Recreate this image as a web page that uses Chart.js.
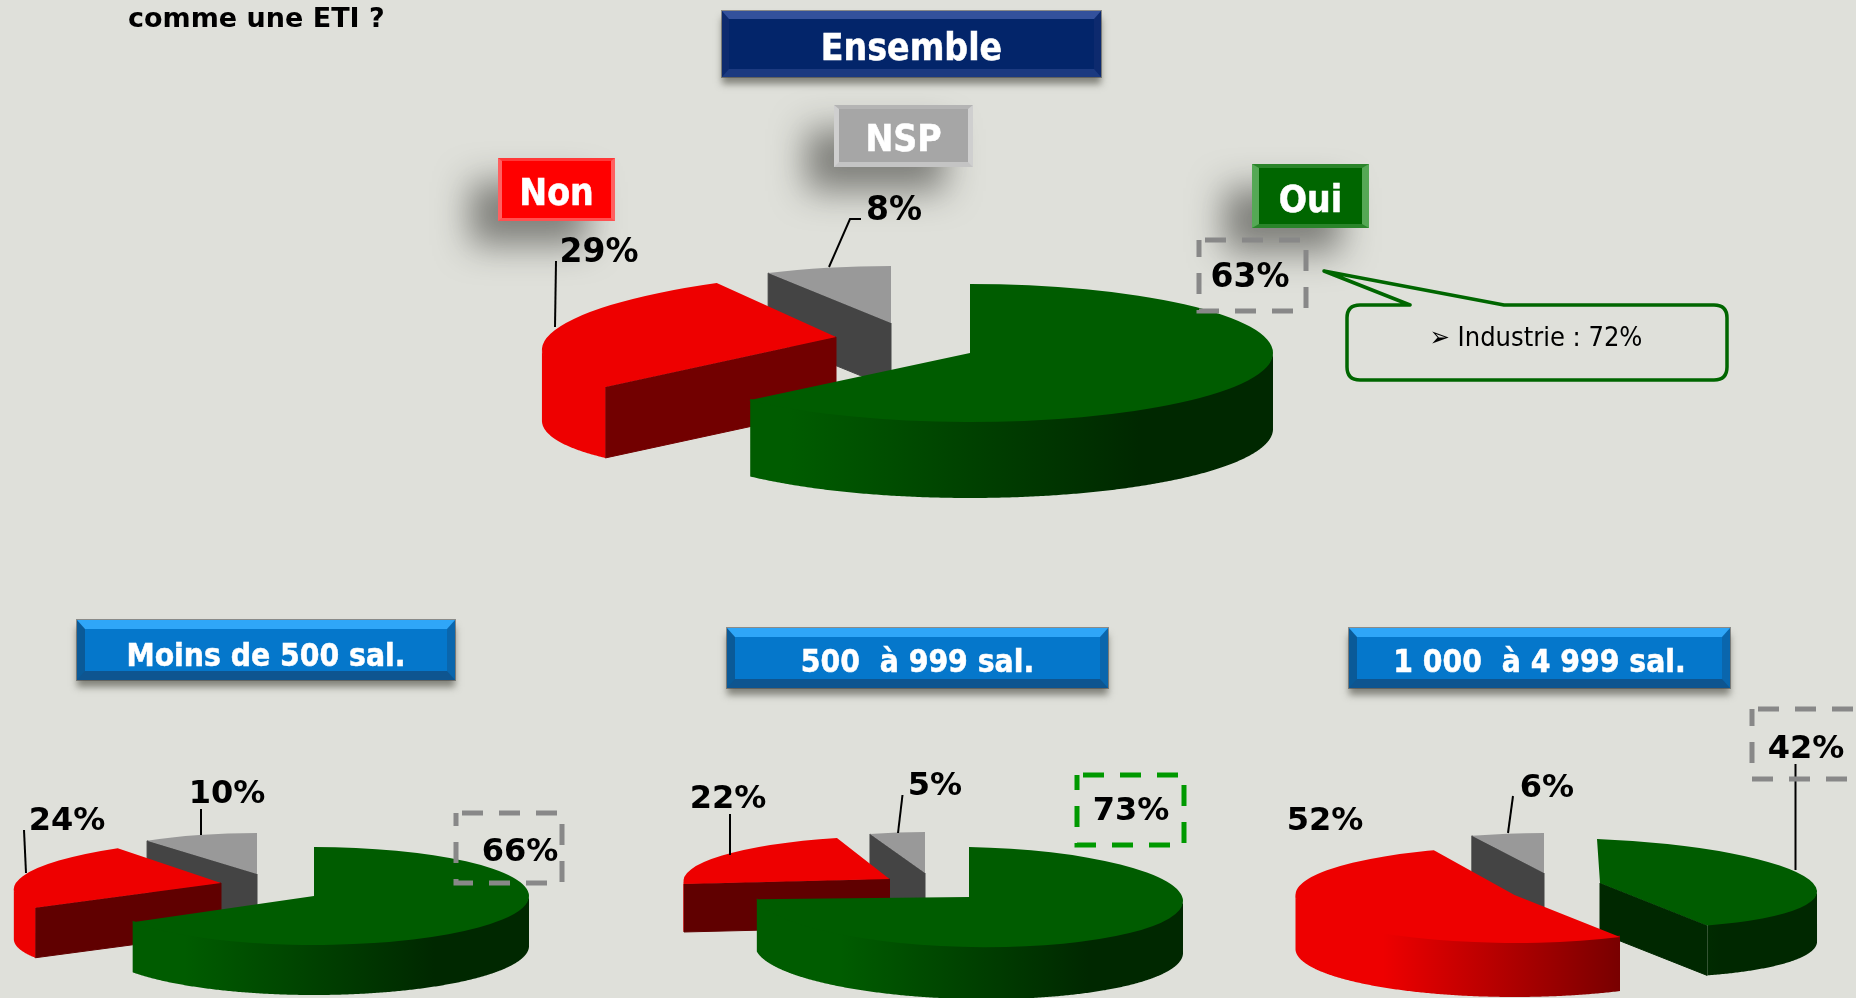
<!DOCTYPE html>
<html><head><meta charset="utf-8">
<script src="https://cdn.jsdelivr.net/npm/chart.js@4"></script>
<style>
html,body{margin:0;padding:0;width:1856px;height:998px;overflow:hidden;background:#dfe0da}
canvas,svg.ov{position:absolute;left:0;top:0}
.box{position:absolute;box-sizing:border-box;display:flex;align-items:center;justify-content:center;color:#fff;
 font-family:"DejaVu Sans Condensed","DejaVu Sans";font-weight:bold;border-style:solid;white-space:pre;-webkit-text-stroke:.5px #fff}
svg text{font-family:"DejaVu Sans"}
</style></head><body>
<script>
// ---------- data ----------
const categories = ['Oui', 'Non', 'NSP'];
const ensembleValues = [63, 29, 8];
const moins500Values = [66, 24, 10];
const de500Values = [73, 22, 5];
const de1000Values = [42, 52, 6];
const pageTitle = 'comme une ETI ?';
const mainTitle = 'Ensemble';
const groupTitles = ['Moins de 500 sal.', '500  à 999 sal.', '1 000  à 4 999 sal.'];
const calloutText = '➢ Industrie : 72%';

// ---------- look ----------
const topColors = ['#005c00', '#ee0000', '#999999'];
const wallBright = ['#005c00', '#ee0000', '#999999'];
const wallDark = ['#002800', '#700000', '#444444'];
const faceColors = ['#002800', '#700000', '#444444'];

// Each slice is placed by an affine frame (centre, x-axis, y-axis) and a depth
const panels = [
 {values: ensembleValues, order: [2,1,0], redFace:'#720000', frames: [
   {cx:970, cy:353, a:303, b:0, c:0, d:69, depth:76},
   {cx:836, cy:337, a:293, b:-7, c:-25, d:65.5, depth:71},
   {cx:891, cy:323, a:255, b:0, c:0, d:57, depth:65}]},
 {values: moins500Values, order: [2,1,0], redFace:'#600000', frames: [
   {cx:314, cy:896, a:215, b:0, c:0, d:49, depth:50},
   {cx:221, cy:883, a:206, b:-1.4, c:-22, d:44, depth:50},
   {cx:257, cy:874, a:187, b:0, c:0, d:41, depth:50}]},
 {values: de500Values, order: [2,1,0], redFace:'#600000', frames: [
   {cx:969, cy:897, a:214, b:4, c:0, d:50, depth:52},
   {cx:889.5, cy:879, a:205.7, b:.4, c:-11.6, d:43, depth:48},
   {cx:925, cy:873, a:178, b:0, c:0, d:41, depth:50}]},
 {values: de1000Values, order: [2,0,1], redFace:'#700000', frames: [
   {cx:1600, cy:883, a:217, b:8, c:3, d:44, depth:50},
   {cx:1514.5, cy:895, a:219, b:0, c:0, d:48, depth:54},
   {cx:1544, cy:873, a:196, b:0, c:0, d:40, depth:50}]}
];

function pt(f, th, dy){ return [f.cx+f.a*Math.cos(th)+f.c*Math.sin(th), f.cy+f.b*Math.cos(th)+f.d*Math.sin(th)+(dy||0)]; }
function face(ctx, f, th, color){
  const o = pt(f, th), q = [f.cx, f.cy];
  ctx.fillStyle = color; ctx.strokeStyle = color; ctx.lineWidth = 1;
  ctx.beginPath(); ctx.moveTo(q[0], q[1]); ctx.lineTo(o[0], o[1]); ctx.lineTo(o[0], o[1]+f.depth); ctx.lineTo(q[0], q[1]+f.depth); ctx.closePath(); ctx.fill(); ctx.stroke();
}
function wall(ctx, f, s, e, i){
  const th0 = Math.atan2(f.c, f.a), TAU = Math.PI*2, run = [];
  for (let t = s; t <= e + 1e-6; t += Math.PI/360) {
    const rel = ((t - th0) % TAU + TAU) % TAU;
    if (rel <= Math.PI) run.push(t);
  }
  if (run.length < 2) return;
  const g = ctx.createLinearGradient(f.cx - f.a, 0, f.cx + f.a, 0);
  g.addColorStop(.2, wallBright[i]); g.addColorStop(.78, wallDark[i]);
  ctx.fillStyle = g;
  ctx.beginPath();
  // the upper edge runs 1.5px under the top face so that no seam shows
  run.forEach((t,k)=>{const p=pt(f,t,-1.5); k?ctx.lineTo(p[0],p[1]):ctx.moveTo(p[0],p[1]);});
  run.slice().reverse().forEach(t=>{const p=pt(f,t,f.depth); ctx.lineTo(p[0],p[1]);});
  ctx.closePath(); ctx.fill();
}
const tiltedPie = {
  id:'tiltedPie',
  beforeDatasetDraw(chart, args){
    const ctx = chart.ctx, P = chart.config.options.plugins.tiltedPie.panel, arcs = args.meta.data;
    P.order.forEach(i=>{
      const arc = arcs[i], f = P.frames[i], R = arc.outerRadius, s = arc.startAngle, e = arc.endAngle;
      const col = i===1 ? P.redFace : faceColors[i];
      ctx.save();
      if (Math.cos(s) < -1e-3) face(ctx, f, s, col);
      if (Math.cos(e) >  1e-3) face(ctx, f, e, col);
      wall(ctx, f, s, e, i);
      ctx.transform(f.a/R, f.b/R, f.c/R, f.d/R, f.cx, f.cy);
      ctx.translate(-arc.x, -arc.y);
      arc.draw(ctx);
      ctx.restore();
    });
    return false;
  }
};
panels.forEach(P=>{
  const cv = document.createElement('canvas'); cv.width=1856; cv.height=998; document.body.appendChild(cv);
  new Chart(cv, {type:'pie', plugins:[tiltedPie],
    data:{labels:categories, datasets:[{data:P.values, backgroundColor:topColors, borderWidth:0}]},
    options:{responsive:false, animation:false, layout:{padding:0},
      plugins:{legend:{display:false}, tooltip:{enabled:false}, tiltedPie:{panel:P}}}});
});

// ---------- boxes ----------
function box(text,x0,y0,x1,y1,size,bg,bw,bc,shadow,pad){
  const d=document.createElement('div'); d.className='box'; d.textContent=text;
  d.style.cssText=`left:${x0}px;top:${y0}px;width:${x1-x0}px;height:${y1-y0}px;font-size:${size}px;background:${bg};border-width:${bw};border-color:${bc};box-shadow:${shadow};padding-top:${pad}px`;
  document.body.appendChild(d);
}
const legendShadow='-28px 24px 34px rgba(50,50,45,.55)';
const blueShadow='0 0 0 1px rgba(70,70,70,.55),0 7px 7px rgba(70,70,60,.6)';
box(categories[2],834,105,973,167,37,'#a6a6a6','4px 5px 5px 5px','#b4b4b4 #cfcfcf #c4c4c4 #cfcfcf',legendShadow,6);
box(categories[1],498,158,615,221,37,'#ff0000','3px 4px 3px 4px','#ff3838 #ff6060 #ff5050 #ff6060',legendShadow,6);
box(categories[0],1252,164,1369,228,37,'#006600','4px 7px 4px 7px','#2a842a #55a855 #2a842a #55a855',legendShadow,6);
box(mainTitle,722,11,1101,77,37,'#03256a','8px 7px 8px 7px','#33519c #0d2a6e #1c3a80 #0d2a6e',blueShadow,6);
box(groupTitles[0],77,620,455,680,31.5,'#0577cb','9px 8px 9px 8px','#2fa6f8 #0a66ad #0e5590 #0a5a98',blueShadow,9);
box(groupTitles[1],727,628,1108,688,31.5,'#0577cb','9px 8px 9px 8px','#2fa6f8 #0a66ad #0e5590 #0a5a98',blueShadow,5);
box(groupTitles[2],1349,628,1730,688,31.5,'#0577cb','9px 8px 9px 8px','#2fa6f8 #0a66ad #0e5590 #0a5a98',blueShadow,5);

// ---------- overlay ----------
const NS='http://www.w3.org/2000/svg';
const svg=document.createElementNS(NS,'svg'); svg.setAttribute('class','ov'); svg.setAttribute('width',1856); svg.setAttribute('height',998);
document.body.appendChild(svg);
function el(n,attrs,txt){const e=document.createElementNS(NS,n);for(const k in attrs)e.setAttribute(k,attrs[k]);if(txt!=null)e.textContent=txt;svg.appendChild(e);return e;}
function pct(v,x,y,size){el('text',{x,y,'text-anchor':'middle','font-size':size,'font-weight':'bold',fill:'#000'},v+'%');}
function leader(d){el('path',{d,fill:'none',stroke:'#000','stroke-width':2});}
function dashed(x0,y0,x1,y1,col){el('rect',{x:x0,y:y0,width:x1-x0,height:y1-y0,fill:'none',stroke:col,'stroke-width':5,'stroke-dasharray':'21 16','stroke-dashoffset':-6});}

el('text',{x:128,y:27,'font-size':27,'font-weight':'bold',fill:'#000'},pageTitle);
// Ensemble
leader('M556 261L555 327'); leader('M861 219H850L829 267');
dashed(1199,240,1306,311,'#888888');
pct(ensembleValues[1],599,262,33); pct(ensembleValues[2],894,220,33); pct(ensembleValues[0],1250,287,33);
el('path',{d:'M1324 271L1410 305H1360Q1347 305 1347 318V367Q1347 380 1360 380H1714Q1727 380 1727 367V318Q1727 305 1714 305H1504Z',fill:'none',stroke:'#006600','stroke-width':3.5,'stroke-linejoin':'round'});
el('text',{x:1536,y:346,'text-anchor':'middle','font-size':27,fill:'#000'},calloutText).style.fontFamily='"DejaVu Sans Condensed","DejaVu Sans"';
// Moins de 500
leader('M24 830L26 873'); leader('M201 809V835');
dashed(456,813,562,883,'#888888');
pct(moins500Values[1],67,830,32); pct(moins500Values[2],227,803,32); pct(moins500Values[0],520,861,32);
// 500 a 999
leader('M730 814V855'); leader('M902.5 795L898 833');
dashed(1077,775,1184,845,'#009900');
pct(de500Values[1],728,808,32); pct(de500Values[2],935,795,32); pct(de500Values[0],1131,820,32);
// 1000 a 4999
leader('M1513 796L1508 833'); leader('M1795.5 764V870');
dashed(1752,709,1860,779,'#888888');
pct(de1000Values[1],1325,830,32); pct(de1000Values[2],1547,797,32); pct(de1000Values[0],1806,758,32);
</script>
</body></html>
